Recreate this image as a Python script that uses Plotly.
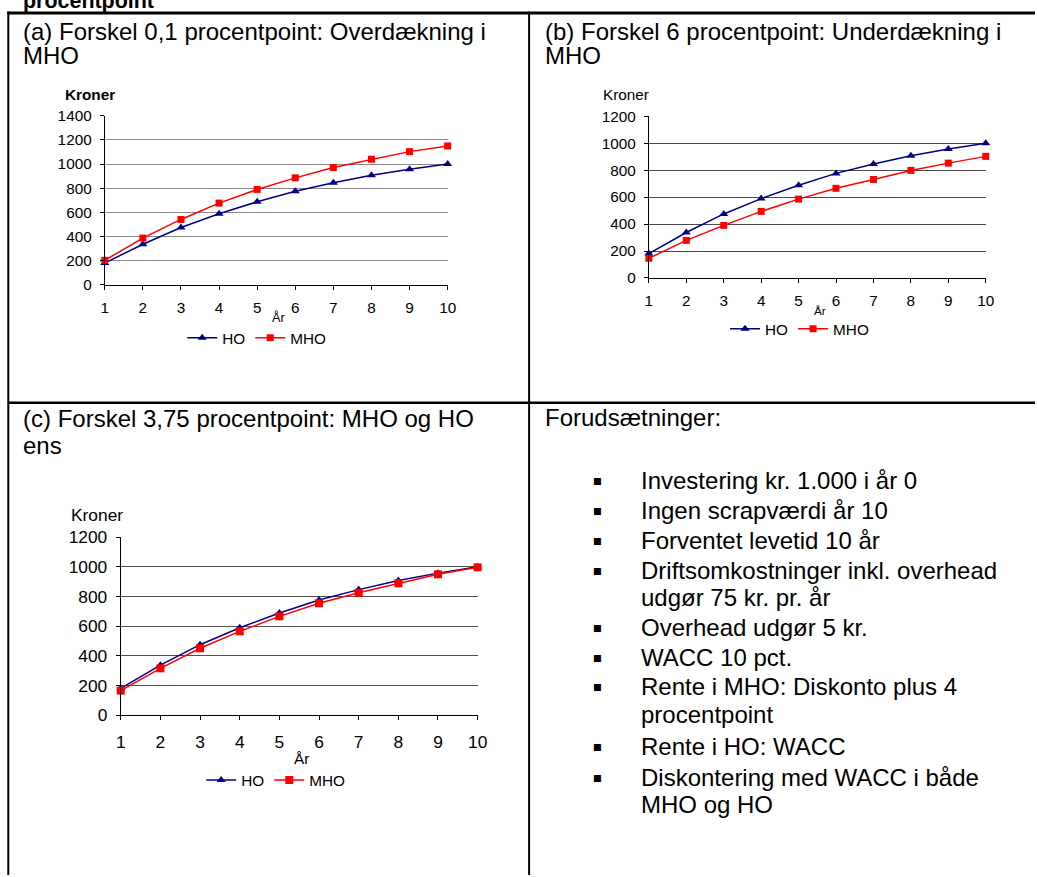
import plotly.graph_objects as go

# Positions below are measured in the reference picture (1037x877).
# The photographed page shows the figure offset by a few pixels and
# scaled slightly, so the figure is sized and placed to compensate.
AX, SX = 5.2, 0.986
AY, SY = 8.6, 0.979
W, H = 1045, 885
FS = 1 / SY  # font compensation

# ---------------- data ----------------
years = [1, 2, 3, 4, 5, 6, 7, 8, 9, 10]
ho_kr = [181, 337, 475, 589, 688, 776, 846, 907, 957, 1000]
mho_a = [204, 388, 542, 677, 790, 886, 971, 1040, 1103, 1150]
mho_b = [146, 279, 390, 494, 585, 665, 731, 798, 852, 902]
mho_c = [166, 316, 451, 565, 666, 754, 825, 888, 949, 996]
series_names = ["HO", "MHO"]

title_a = ["(a) Forskel 0,1 procentpoint: Overdækning i", "MHO"]
title_b = ["(b) Forskel 6 procentpoint: Underdækning i", "MHO"]
title_c = ["(c) Forskel 3,75 procentpoint: MHO og HO", "ens"]
premises_head = "Forudsætninger:"
premises = [
    ["Investering kr. 1.000 i år 0"],
    ["Ingen scrapværdi år 10"],
    ["Forventet levetid 10 år"],
    ["Driftsomkostninger inkl. overhead", "udgør 75 kr. pr. år"],
    ["Overhead udgør 5 kr."],
    ["WACC 10 pct."],
    ["Rente i MHO: Diskonto plus 4", "procentpoint"],
    ["Rente i HO: WACC"],
    ["Diskontering med WACC i både", "MHO og HO"],
]

FONT = "Liberation Sans, Arial, sans-serif"
HO_COL = "#000080"
MHO_COL = "#FF0000"
BIG = 24.0
PAD = 2  # annotation box padding on the left


def px(x):
    return min(max(((x - AX) / SX) / W, 0), 1)


def py(y):
    return 1 - ((y - AY) / SY) / H


def f(s):
    return round(s * FS, 2)


fig = go.Figure()

panels = [
    dict(ax="", mho=mho_a, leg="legend", xr=(105, 448), yr=(114.5, 284), ymax=1400,
         grid="#8a8a8a", tf=15, sq=7, tri=8, so=5),
    dict(ax="2", mho=mho_b, leg="legend2", xr=(649.3, 986.3), yr=(115, 277), ymax=1200,
         grid="#4a4a4a", tf=15, sq=7, tri=8, so=5),
    dict(ax="3", mho=mho_c, leg="legend3", xr=(121, 478), yr=(536.5, 715), ymax=1200,
         grid="#505050", tf=17, sq=8, tri=8, so=7),
]

for p in panels:
    xa = "x" + p["ax"]
    ya = "y" + p["ax"]
    fig.add_trace(go.Scatter(
        x=years, y=ho_kr, name=series_names[0], mode="lines+markers",
        line=dict(color=HO_COL, width=1.5),
        marker=dict(symbol="triangle-up", size=p["tri"], color=HO_COL),
        xaxis=xa, yaxis=ya, legend=p["leg"], cliponaxis=False))
    fig.add_trace(go.Scatter(
        x=years, y=p["mho"], name=series_names[1], mode="lines+markers",
        line=dict(color=MHO_COL, width=1.5),
        marker=dict(symbol="square", size=p["sq"], color=MHO_COL),
        xaxis=xa, yaxis=ya, legend=p["leg"], cliponaxis=False))

    xkey = "xaxis" + p["ax"]
    ykey = "yaxis" + p["ax"]
    fig.update_layout(**{
        xkey: dict(domain=[px(p["xr"][0]), px(p["xr"][1])], anchor=ya, range=[1, 10],
                   tickmode="array", tickvals=years, ticks="outside", ticklen=4,
                   tickcolor="black", showline=True, linecolor="black", linewidth=1,
                   showgrid=False, zeroline=False,
                   tickfont=dict(family=FONT, size=f(p["tf"]), color="black"),
                   ticklabelstandoff=p["so"]),
        ykey: dict(domain=[py(p["yr"][1]), py(p["yr"][0])], anchor=xa, range=[0, p["ymax"]],
                   dtick=200, ticks="outside", ticklen=4, tickcolor="black",
                   showline=True, linecolor="black", linewidth=1,
                   showgrid=True, gridcolor=p["grid"], gridwidth=1, zeroline=False,
                   tickfont=dict(family=FONT, size=f(p["tf"]), color="black"),
                   ticklabelstandoff=5),
    })

legend_common = dict(orientation="h", xanchor="center", yanchor="middle",
                     bgcolor="rgba(0,0,0,0)", itemwidth=30, tracegroupgap=0,
                     font=dict(family=FONT, size=f(15), color="black"))
fig.update_layout(
    legend=dict(x=px(257), y=py(337), **legend_common),
    legend2=dict(x=px(800), y=py(328), **legend_common),
    legend3=dict(x=px(276), y=py(780), **legend_common),
)

ann = []


def text(x, y, s, size, xanchor="left", bold=False):
    if xanchor == "left":
        x = x - PAD
    ann.append(dict(x=px(x), y=py(y), xref="paper", yref="paper", text=(f"<b>{s}</b>" if bold else s),
                    showarrow=False, xanchor=xanchor, yanchor="middle",
                    font=dict(family=FONT, size=size, color="black")))


# cut-off heading at the very top
text(23, -0.5, "procentpoint", f(21), bold=True)

# panel titles
text(23, 30, title_a[0], BIG)
text(23, 54.5, title_a[1], BIG)
text(545, 30, title_b[0], BIG)
text(545, 54.5, title_b[1], BIG)
text(23, 418, title_c[0], BIG)
text(23, 444.5, title_c[1], BIG)

# axis labels
text(90, 93, "Kroner", f(15), xanchor="center", bold=True)
text(626.5, 93, "Kroner", f(15), xanchor="center")
text(97, 514, "Kroner", f(17), xanchor="center")
text(279, 317, "År", f(12.5), xanchor="center")
text(820, 310, "År", f(11.5), xanchor="center")
text(302, 758, "År", f(15), xanchor="center")

# premises panel
text(545, 416.5, premises_head, BIG)
line_y = [479.5, 509.5, 539.5, 570.5, 597.5, 627.5, 657.5, 686.5, 714.5, 746.5, 777.5, 804.5]
k = 0
for item in premises:
    for j, line in enumerate(item):
        if j == 0:
            ann.append(dict(x=px(598), y=py(line_y[k]), xref="paper", yref="paper", text="■",
                            showarrow=False, xanchor="center", yanchor="middle",
                            font=dict(family="DejaVu Sans", size=f(9), color="black")))
        text(641, line_y[k], line, BIG)
        k += 1

fig.update_layout(annotations=ann)

# table borders
shapes = [
    dict(type="line", xref="paper", yref="paper", x0=px(7.5), x1=1, y0=py(11.5), y1=py(11.5),
         line=dict(color="black", width=3)),
    dict(type="line", xref="paper", yref="paper", x0=px(8.5), x1=px(8.5), y0=py(10), y1=0,
         line=dict(color="black", width=2)),
    dict(type="line", xref="paper", yref="paper", x0=px(529.5), x1=px(529.5), y0=py(10), y1=0,
         line=dict(color="black", width=2)),
    dict(type="line", xref="paper", yref="paper", x0=px(8), x1=1, y0=py(402), y1=py(402),
         line=dict(color="black", width=2.5)),
]
fig.update_layout(shapes=shapes)

fig.update_layout(width=W, height=H, margin=dict(l=0, r=0, t=0, b=0),
                  paper_bgcolor="white", plot_bgcolor="white",
                  font=dict(family=FONT, color="black"))

fig.write_html("out.html")
